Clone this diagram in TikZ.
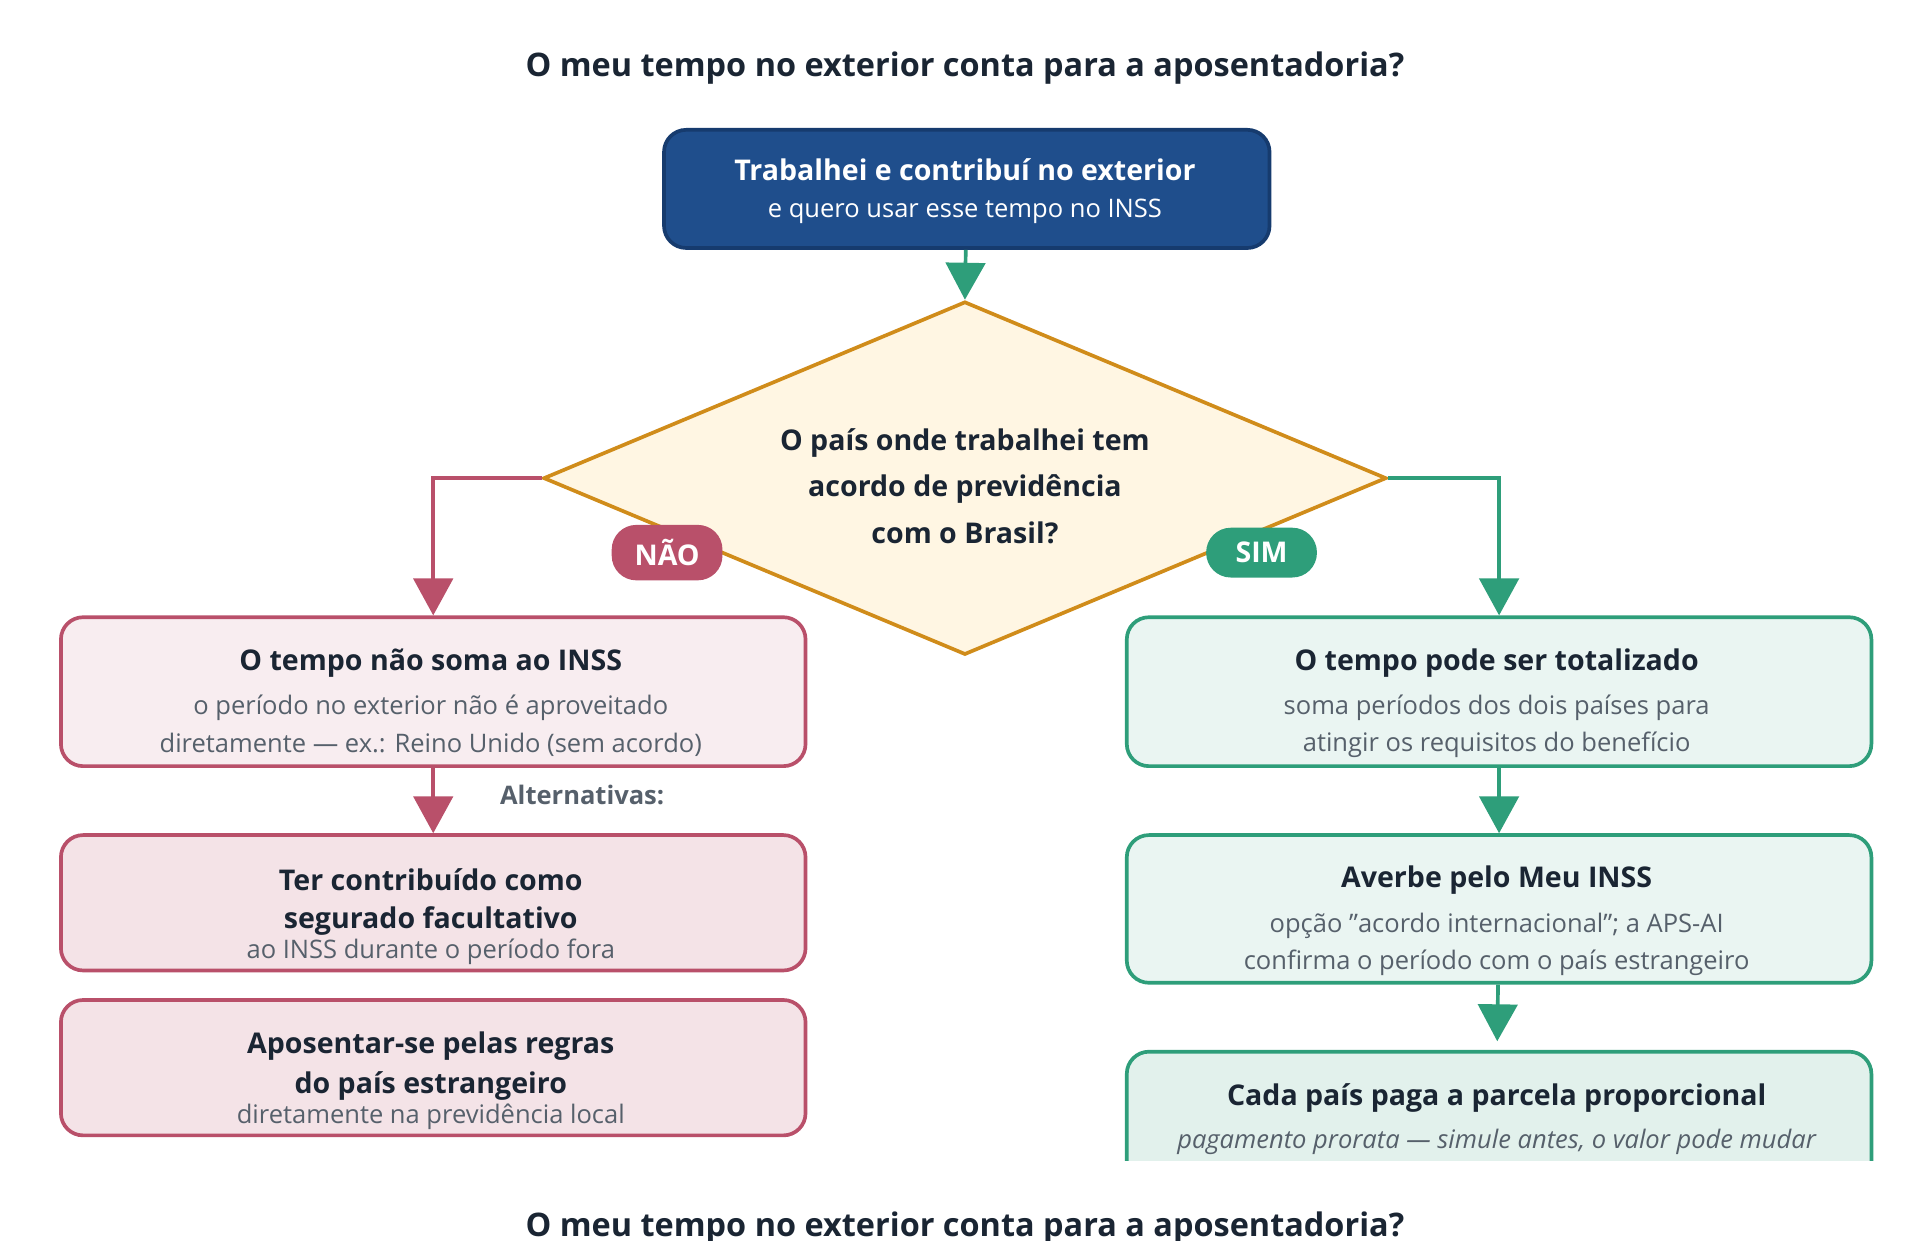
\documentclass[tikz,border=0pt]{standalone}
\usepackage{fontspec}
\setmainfont{Open Sans}
\usetikzlibrary{positioning, arrows.meta, shapes.geometric}
\definecolor{navy}{HTML}{1F4E8C}
\definecolor{navyline}{HTML}{163B6E}
\definecolor{ink}{HTML}{1A2533}
\definecolor{grey}{HTML}{56606B}
\definecolor{nao}{HTML}{B9506A}
\definecolor{sim}{HTML}{2E9E7A}
\definecolor{gold}{HTML}{D08C1A}
\definecolor{cream}{HTML}{FFF6E3}
\newcommand{\hd}{\fontsize{6.6pt}{7pt}\selectfont\bfseries}
\newcommand{\sm}{\fontsize{5.9pt}{6pt}\selectfont}
\tikzset{
  box/.style={draw, line width=0.85pt, rounded corners=0.18cm, anchor=north west},
  head/.style={text=ink, font=\hd, inner sep=0pt},
  note/.style={text=grey, font=\sm, inner sep=0pt},
  pill/.style={rounded corners=0.2cm, minimum width=0.9cm, minimum height=0.4cm, text=white, font=\hd},
  flow/.style={line width=0.85pt, -{Triangle[width=0.32cm,length=0.3cm]}}
}
\begin{document}
\begin{tikzpicture}[x=1cm,y=1cm]
  \useasboundingbox (0,0) rectangle (15.6,-10.08);
  \node[font=\fontsize{7.5pt}{8pt}\selectfont\bfseries, text=ink] (title) at (7.84,-0.55) {O meu tempo no exterior conta para a aposentadoria?};
  % top
  \node[box, fill=navy, draw=navyline, minimum width=4.92cm, minimum height=0.96cm] (start) at (5.38,-1.04) {};
  \node[font=\hd, text=white] (starthd) at (7.84,-1.38) {Trabalhei e contribuí no exterior};
  \node[font=\sm, text=white] (startnt) at (7.84,-1.72) {e quero usar esse tempo no INSS};
  % decision
  \node[diamond, draw=gold, fill=cream, line width=0.85pt, minimum width=6.85cm, minimum height=2.87cm, inner sep=0pt, aspect=2.4] (ask) at (7.84,-3.885) {};
  \node[head] (ask1) at (7.84,-3.6) {O país onde trabalhei tem};
  \node[head] (ask2) at (7.84,-3.97) {acordo de previdência};
  \node[head] (ask3) at (7.84,-4.33) {com o Brasil?};
  \draw[flow, sim] (start) -- (ask.north);
  % left column
  \node[box, draw=nao, fill=nao!10, minimum width=6.05cm, minimum height=1.21cm] (no1) at (0.48,-5.0) {};
  \node[head] (no1a) at (3.5,-5.39) {O tempo não soma ao INSS};
  \node[note] (no1b) at (3.5,-5.75) {o período no exterior não é aproveitado};
  \node[note] (no1c) at (3.5,-6.05) {diretamente — ex.: Reino Unido (sem acordo)};
  \node[box, draw=nao, fill=nao!16, minimum width=6.05cm, minimum height=1.1cm] (no2) at (0.48,-6.77) {};
  \node[head] (no2a) at (3.5,-7.15) {Ter contribuído como};
  \node[head] (no2b) at (3.5,-7.48) {segurado facultativo};
  \node[note] (no2c) at (3.5,-7.73) {ao INSS durante o período fora};
  \node[box, draw=nao, fill=nao!16, minimum width=6.05cm, minimum height=1.1cm] (no3) at (0.48,-8.11) {};
  \node[head] (no3a) at (3.5,-8.5) {Aposentar-se pelas regras};
  \node[head] (no3b) at (3.5,-8.82) {do país estrangeiro};
  \node[note] (no3c) at (3.5,-9.07) {diretamente na previdência local};
  \node[font=\fontsize{5.9pt}{6pt}\selectfont\bfseries, text=grey] (alt) at (4.73,-6.46) {Alternativas:};
  \draw[flow, nao] (ask.west) -| (no1.north);
  \draw[flow, nao] (no1) -- (no2);
  % right column
  \node[box, draw=sim, fill=sim!10, minimum width=6.05cm, minimum height=1.21cm] (yes1) at (9.14,-5.0) {};
  \node[head] (yes1a) at (12.16,-5.39) {O tempo pode ser totalizado};
  \node[note] (yes1b) at (12.16,-5.75) {soma períodos dos dois países para};
  \node[note] (yes1c) at (12.16,-6.05) {atingir os requisitos do benefício};
  \node[box, draw=sim, fill=sim!10, minimum width=6.05cm, minimum height=1.2cm] (yes2) at (9.14,-6.77) {};
  \node[head] (yes2a) at (12.16,-7.15) {Averbe pelo Meu INSS};
  \node[note] (yes2b) at (12.16,-7.52) {opção \symbol{34}acordo internacional\symbol{34}; a APS-AI};
  \node[note] (yes2c) at (12.16,-7.82) {confirma o período com o país estrangeiro};
  \begin{scope}
    \clip (9,-8.4) rectangle (15.5,-9.43);
    \node[box, draw=sim, fill=sim!14, minimum width=6.05cm, minimum height=1.2cm] (yes3) at (9.14,-8.53) {};
  \end{scope}
  \node[head] (yes3a) at (12.16,-8.92) {Cada país paga a parcela proporcional};
  \node[note, font=\sm\itshape] (yes3b) at (12.16,-9.28) {pagamento prorata — simule antes, o valor pode mudar};
  \draw[flow, sim] (ask.east) -| (yes1.north);
  \draw[flow, sim] (yes1) -- (yes2);
  \draw[flow, sim] (yes2) -- (12.165,-8.46);
  % pills
  \node[pill, fill=nao] (pno) at (5.42,-4.49) {NÃO};
  \node[pill, fill=sim] (psim) at (10.25,-4.49) {SIM};
  \node[font=\fontsize{7.5pt}{8pt}\selectfont\bfseries, text=ink] (title2) at (7.84,-9.98) {O meu tempo no exterior conta para a aposentadoria?};
\end{tikzpicture}
\end{document}
